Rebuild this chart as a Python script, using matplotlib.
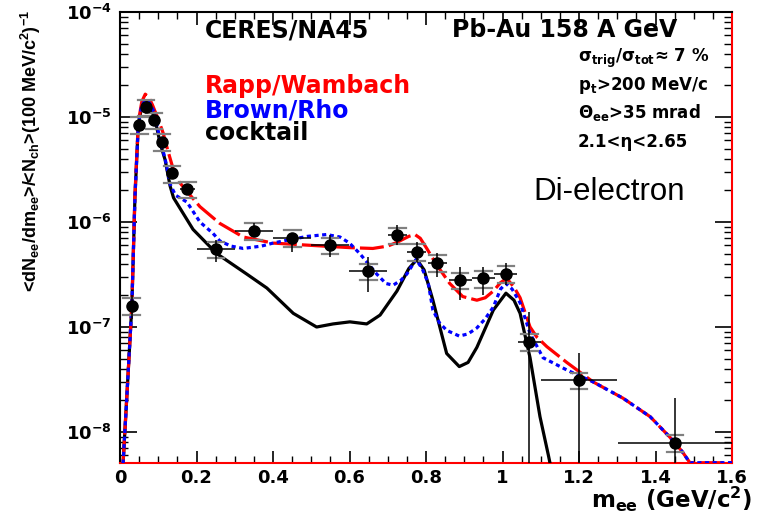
import matplotlib
matplotlib.use("Agg")
import matplotlib.pyplot as plt
from matplotlib.ticker import LogLocator, MultipleLocator, NullFormatter, FixedLocator

plt.rcParams["mathtext.default"] = "regular"

# measured data points (m_ee in GeV/c^2, yield)
m_pts = [0.031, 0.050, 0.068, 0.089, 0.110, 0.136, 0.176, 0.251, 0.350, 0.450,
         0.549, 0.649, 0.725, 0.776, 0.830, 0.889, 0.950, 1.009, 1.070, 1.200, 1.451]
y_pts = [1.6e-7, 8.4e-6, 1.24e-5, 9.3e-6, 5.8e-6, 2.9e-6, 2.05e-6, 5.5e-7, 8.3e-7, 7.1e-7,
         6.0e-7, 3.4e-7, 7.5e-7, 5.2e-7, 4.1e-7, 2.8e-7, 2.9e-7, 3.2e-7, 7.2e-8, 3.1e-8, 7.9e-9]
x_half = [0.008, 0.01, 0.01, 0.01, 0.01, 0.013, 0.02, 0.05, 0.05, 0.05,
          0.05, 0.05, 0.025, 0.025, 0.025, 0.03, 0.03, 0.03, 0.03, 0.10, 0.15]
y_lo = [1.2e-7, 7.4e-6, 1.14e-5, 8.5e-6, 5.3e-6, 2.6e-6, 1.8e-6, 4.2e-7, 7.2e-7, 5.2e-7,
        4.6e-7, 2.15e-7, 6.0e-7, 4.2e-7, 3.0e-7, 1.8e-7, 2.0e-7, 2.5e-7, 1e-12, 1e-12, 1e-12]
y_hi = [2.0e-7, 9.4e-6, 1.34e-5, 1.01e-5, 6.3e-6, 3.2e-6, 2.3e-6, 6.8e-7, 9.8e-7, 7.9e-7,
        7.6e-7, 4.6e-7, 9.3e-7, 6.5e-7, 5.1e-7, 3.7e-7, 3.7e-7, 4.1e-7, 1.4e-7, 5.7e-8, 2.1e-8]
sys_frac = 0.18

# cocktail
m_cock = [0.008, 0.02, 0.031, 0.039, 0.044, 0.048, 0.057, 0.066, 0.075, 0.083, 0.096,
          0.105, 0.118, 0.131, 0.14, 0.191, 0.253, 0.331, 0.384, 0.453, 0.514, 0.557,
          0.601, 0.645, 0.68, 0.724, 0.755, 0.776, 0.795, 0.818, 0.854, 0.887, 0.91,
          0.933, 0.976, 1.009, 1.03, 1.046, 1.072, 1.098, 1.12, 1.13]
y_cock = [5e-9, 3e-8, 1.6e-7, 1.7e-6, 4.2e-6, 8.7e-6, 1.25e-5, 1.4e-5, 1.35e-5, 1.17e-5, 8e-6,
          5.6e-6, 3.9e-6, 2.2e-6, 1.7e-6, 8.5e-7, 5e-7, 3.2e-7, 2.35e-7, 1.35e-7, 1.0e-7, 1.07e-7,
          1.12e-7, 1.07e-7, 1.3e-7, 2.2e-7, 3.6e-7, 4.4e-7, 3.5e-7, 1.8e-7, 5.6e-8, 4.2e-8, 4.6e-8,
          6.4e-8, 1.45e-7, 2.1e-7, 1.8e-7, 1.35e-7, 5.1e-8, 1.4e-8, 6e-9, 4e-9]

# Rapp/Wambach
m_rw = [0.008, 0.02, 0.031, 0.039, 0.044, 0.048, 0.057, 0.066, 0.075, 0.085, 0.1, 0.113,
        0.125, 0.139, 0.155, 0.178, 0.209, 0.243, 0.261, 0.322, 0.40, 0.497, 0.601, 0.661,
        0.70, 0.724, 0.755, 0.771, 0.785, 0.802, 0.828, 0.862, 0.896, 0.933, 0.955, 0.976,
        0.995, 1.011, 1.03, 1.046, 1.072, 1.09, 1.116, 1.168, 1.237, 1.315, 1.386, 1.438,
        1.47, 1.49, 1.6]
y_rw = [5e-9, 3e-8, 1.6e-7, 1.8e-6, 4.5e-6, 9e-6, 1.4e-5, 1.65e-5, 1.55e-5, 1.3e-5, 9.5e-6, 7e-6,
        4.8e-6, 3.2e-6, 2.4e-6, 1.9e-6, 1.4e-6, 1.1e-6, 9.7e-7, 7.2e-7, 6.3e-7, 6e-7, 5.7e-7, 5.6e-7,
        5.9e-7, 6.4e-7, 7.3e-7, 7.6e-7, 7.0e-7, 5.6e-7, 3.9e-7, 2.6e-7, 1.95e-7, 1.8e-7, 1.9e-7, 2.2e-7,
        2.65e-7, 2.9e-7, 2.4e-7, 1.9e-7, 1.0e-7, 8e-8, 6.5e-8, 4.6e-8, 3e-8, 2.1e-8, 1.4e-8, 8.9e-9,
        6.5e-9, 5.1e-9, 5.1e-9]

# Brown/Rho
m_br = [0.008, 0.02, 0.031, 0.039, 0.044, 0.048, 0.057, 0.068, 0.078, 0.09, 0.105, 0.118,
        0.131, 0.145, 0.175, 0.209, 0.243, 0.261, 0.29, 0.322, 0.37, 0.40, 0.436, 0.49, 0.54,
        0.575, 0.60, 0.627, 0.671, 0.695, 0.714, 0.735, 0.75, 0.774, 0.79, 0.806, 0.818, 0.835,
        0.854, 0.887, 0.91, 0.933, 0.955, 0.976, 0.995, 1.009, 1.025, 1.046, 1.072, 1.106, 1.168,
        1.237, 1.315, 1.386, 1.438, 1.47, 1.49, 1.6]
y_br = [5e-9, 3e-8, 1.6e-7, 1.7e-6, 4.2e-6, 8.7e-6, 1.3e-5, 1.45e-5, 1.35e-5, 1.1e-5, 6e-6, 4e-6,
        2.3e-6, 1.8e-6, 1.55e-6, 1.0e-6, 7.8e-7, 6.6e-7, 5.9e-7, 5.6e-7, 5.9e-7, 6.3e-7, 6.7e-7, 7.3e-7, 7.6e-7,
        7.2e-7, 6.3e-7, 5e-7, 3.2e-7, 2.6e-7, 2.5e-7, 2.8e-7, 3.2e-7, 4.4e-7, 3.6e-7, 2.6e-7, 1.45e-7, 1.1e-7,
        9.3e-8, 8.2e-8, 8.6e-8, 9.8e-8, 1.2e-7, 1.55e-7, 2.3e-7, 2.6e-7, 2.3e-7, 1.7e-7, 8.7e-8, 5.1e-8, 3.9e-8,
        3e-8, 2.1e-8, 1.4e-8, 8.9e-9, 6.5e-9, 5.1e-9, 5.1e-9]

W, H = 761, 513
fig = plt.figure(figsize=(W / 100, H / 100), dpi=100)
ax = fig.add_axes([120 / W, 1 - 463 / H, 612 / W, 451 / H])

ax.plot(m_cock, y_cock, color="black", lw=2.3, zorder=3)
ax.plot(m_rw, y_rw, color="#ff0000", lw=2.3, dashes=(7.5, 1.6), zorder=4)
ax.plot(m_br, y_br, color="#0000ff", lw=2.3, dashes=(1.3, 1.1), zorder=5)

# systematic caps
for m, y in zip(m_pts, y_pts):
    for f in (1 + sys_frac, 1 - sys_frac):
        ax.plot([m - 0.022, m + 0.022], [y * f, y * f], color="#808080", lw=1.6, zorder=6)

err_lo = [y - lo for y, lo in zip(y_pts, y_lo)]
err_hi = [hi - y for y, hi in zip(y_pts, y_hi)]
ax.errorbar(m_pts, y_pts, xerr=x_half, yerr=[err_lo, err_hi], fmt="o", color="black",
            ecolor="black", elinewidth=1.1, capsize=0, markersize=8, zorder=7)

ax.set_yscale("log")
ax.set_xlim(0, 1.6)
ax.set_ylim(5.07e-9, 1e-4)

ax.xaxis.set_major_locator(FixedLocator([0, 0.2, 0.4, 0.6, 0.8, 1.0, 1.2, 1.4, 1.6]))
ax.xaxis.set_minor_locator(MultipleLocator(0.05))
ax.set_xticklabels(["0", "0.2", "0.4", "0.6", "0.8", "1", "1.2", "1.4", "1.6"])
ax.yaxis.set_major_locator(LogLocator(base=10, numticks=20))
ax.yaxis.set_minor_locator(LogLocator(base=10, subs=range(2, 10), numticks=40))
ax.yaxis.set_minor_formatter(NullFormatter())
ax.set_yticks([1e-8, 1e-7, 1e-6, 1e-5, 1e-4])
ax.set_yticklabels([r"$10^{-8}$", r"$10^{-7}$", r"$10^{-6}$", r"$10^{-5}$", r"$10^{-4}$"])

ax.tick_params(axis="x", which="major", direction="in", length=9, width=1.2, top=True, pad=4)
ax.tick_params(axis="x", which="minor", direction="in", length=5, width=1.0, top=True)
ax.tick_params(axis="y", which="major", direction="in", length=12, width=1.2, right=True, pad=6)
ax.tick_params(axis="y", which="minor", direction="in", length=6, width=1.0, right=True)
for lab in ax.get_xticklabels() + ax.get_yticklabels():
    lab.set_fontfamily("DejaVu Sans")
    lab.set_fontweight("bold")
    lab.set_fontsize(13)

for s in ax.spines.values():
    s.set_linewidth(1.5)
ax.spines["bottom"].set_color("#ff0000")
ax.spines["right"].set_color("#ff0000")

bold = dict(family="DejaVu Sans", weight="bold")


def ftext(x, y, s, **kw):
    fig.text(x / W, 1 - y / H, s, va="baseline", ha="left", **kw)


ftext(205, 37, "CERES/NA45", fontsize=17, **bold)
ftext(452, 37, "Pb-Au 158 A GeV", fontsize=17, **bold)
ftext(205, 93, "Rapp/Wambach", fontsize=17, color="#ff0000", **bold)
ftext(205, 117, "Brown/Rho", fontsize=17, color="#0000ff", **bold)
ftext(205, 140, "cocktail", fontsize=17, color="black", **bold)
ftext(578, 62, r"σ$_{trig}$/σ$_{tot}$≈ 7 %", fontsize=12, **bold)
ftext(578, 90, r"p$_{t}$>200 MeV/c", fontsize=12, **bold)
ftext(578, 118, r"Θ$_{ee}$>35 mrad", fontsize=12, **bold)
ftext(578, 147, "2.1<η<2.65", fontsize=12, **bold)
ftext(533, 200, "Di-electron", fontsize=22.5, family="Liberation Sans")

fig.text(752 / W, 1 - 508 / H, r"m$_{ee}$ (GeV/c$^{2}$)", ha="right", va="baseline",
         fontsize=16.5, **bold)
fig.text(31 / W, 1 - 10 / H, r"<dN$_{ee}$/dm$_{ee}$>/<N$_{ch}$>(100 MeV/c$^{2}$)$^{-1}$",
         rotation=90, ha="center", va="top", fontsize=13, family="Liberation Sans", weight="bold")

fig.savefig("out.png", dpi=100, facecolor="white")
